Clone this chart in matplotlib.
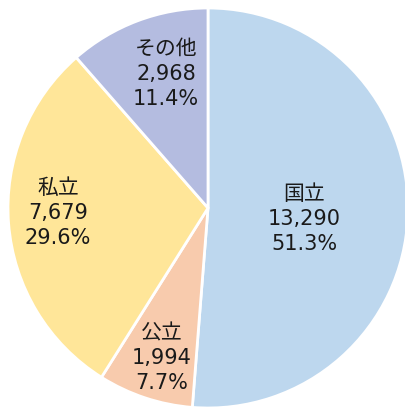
import matplotlib.pyplot as plt

plt.rcParams['font.family'] = ['DejaVu Sans', 'Noto Sans CJK JP']

categories = ["国立", "公立", "私立", "その他"]
counts = [13290, 1994, 7679, 2968]
percents = ["51.3%", "7.7%", "29.6%", "11.4%"]
colors = ["#BDD7EE", "#F8CBAD", "#FFE699", "#B4BCE0"]

# label positions (axes data coords, pie radius 1)
label_pos = [(0.48, -0.055), (-0.23, -0.75), (-0.75, -0.025), (-0.21, 0.67)]

fig = plt.figure(figsize=(4.06, 4.08), dpi=100)
ax = fig.add_axes([8 / 406, 0, 400 / 406, 400 / 408])
ax.pie(counts, colors=colors, startangle=90, counterclock=False,
       wedgeprops=dict(edgecolor="white", linewidth=2))
for cat, n, p, (x, y) in zip(categories, counts, percents, label_pos):
    ax.text(x, y, f"{cat}\n{n:,}\n{p}", ha="center", va="center",
            fontsize=15, linespacing=1.3, color="#1a1a1a")
ax.set_xlim(-1, 1)
ax.set_ylim(-1, 1)
ax.set_aspect("equal")
ax.axis("off")
fig.savefig("out.png", dpi=100)
